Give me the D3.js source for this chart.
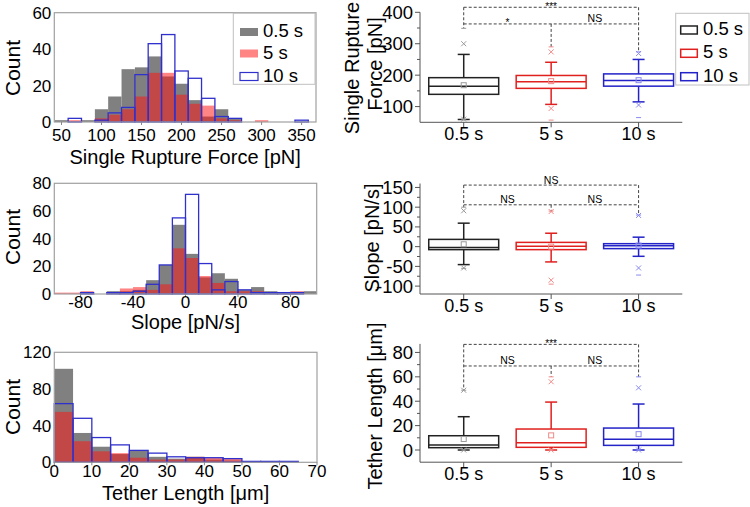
<!DOCTYPE html>
<html><head><meta charset="utf-8">
<script src="https://cdn.jsdelivr.net/npm/d3@7"></script>
<style>body{margin:0;background:#fff}svg{display:block;font-family:"Liberation Sans",Arial,sans-serif}</style>
</head><body><svg id="c" width="750" height="507"></svg>
<script>
// ---------------- data ----------------
const seriesNames = ["0.5 s", "5 s", "10 s"];

// Histogram 1: single rupture force (bin left edges, pN)
const forceBinLeft = [41.7, 58.3, 75, 91.7, 108.3, 125, 141.7, 158.3, 175, 191.7, 208.3, 225, 241.7, 258.3, 275, 291.7, 308.3, 325, 341.7];
const forceBinWidth = 16.67;
const forceGray = [1, 0, 1, 7, 14, 29, 30, 36, 25, 21, 12, 3, 7, 2, 0, 0, 0, 0, 0];
const forceRed  = [0, 1, 0, 2, 4, 7, 14, 27, 27, 15, 10, 9, 2, 1, 0, 1, 0, 0, 0];
const forceBlue = [0, 2, 0, 1, 5, 8, 26, 43, 48, 28, 24, 13, 3, 2, 0, 0, 0, 0, 1];
const forceXTicks = [50, 100, 150, 200, 250, 300, 350];
const forceYTicks = [0, 20, 40, 60];

// Histogram 2: slope (pN/s)
const slopeBinLeft = [-100, -90, -80, -70, -60, -50, -40, -30, -20, -10, 0, 10, 20, 30, 40, 50, 60, 70, 80, 90];
const slopeBinWidth = 10;
const slopeGray = [0, 0, 0, 0, 2, 2, 3, 10, 21, 50, 29, 12, 15, 11, 3, 5, 2, 1, 1, 2];
const slopeRed  = [1, 1, 2, 0, 1, 4, 5, 3, 7, 33, 26, 13, 8, 2, 2, 2, 0, 0, 2, 0];
const slopeBlue = [0, 0, 1, 0, 1, 1, 2, 7, 21, 55, 72, 22, 3, 9, 3, 1, 1, 1, 1, 0];
const slopeXTicks = [-80, -40, 0, 40, 80];
const slopeYTicks = [0, 20, 40, 60, 80];

// Histogram 3: tether length (um)
const tetherBinLeft = [0, 5, 10, 15, 20, 25, 30, 35, 40, 45, 50, 55, 60, 65];
const tetherBinWidth = 5;
const tetherGray = [102, 32, 17, 9, 13, 6, 4, 6, 3, 2, 1, 0, 0, 0];
const tetherRed  = [55, 23, 12, 10, 5, 3, 3, 6, 5, 4, 0, 0, 0, 0];
const tetherBlue = [64, 48, 27, 19, 13, 10, 6, 5, 5, 4, 1, 1, 1, 0];
const tetherXTicks = [0, 10, 20, 30, 40, 50, 60, 70];
const tetherYTicks = [0, 40, 80, 120];

// Box plot statistics, order: 0.5 s, 5 s, 10 s
// [q1, median, q3, mean, whiskerLow, whiskerHigh, p1, p99, min, max]
const forceBox = [
  [139, 165, 192, 168, 59, 266, 60, 300, 58, 349],
  [158, 179, 199, 181, 107, 241, 94, 274, 57, 290],
  [165, 183, 204, 184, 115, 250, 105, 269, 65, 274]
];
const slopeBox = [
  [-7.6, -2, 18.4, 6, -45.5, 59.5, -54, 91, -55, 100],
  [-7.6, 0.8, 10.8, 0, -38.7, 34, -85, 89, -95, 90],
  [-5, 2.5, 7.5, 2.8, -24.5, 24, -54, 79, -72, 80]
];
const tetherBox = [
  [1.9, 4.1, 11.7, 9, 0, 27.3, 0, 49, 0, 49],
  [2.2, 6, 17.2, 12, 0, 39.3, 0, 56, 0, 60],
  [3.8, 8.8, 18, 13, 0, 37.7, 0, 51, 0, 60]
];
const forceBoxTicks = [100, 200, 300, 400];
const slopeBoxTicks = [-100, -50, 0, 50, 100, 150];
const tetherBoxTicks = [0, 20, 40, 60, 80];

// significance brackets: [top level value, second level value], labels [top, left, right]
const forceSig = [416, 363]; const forceSigLabels = ["***", "*", "NS"];
const slopeSig = [156, 106]; const slopeSigLabels = ["NS", "NS", "NS"];
const tetherSig = [86.6, 68.9]; const tetherSigLabels = ["***", "NS", "NS"];

// ---------------- drawing ----------------
const svg = d3.select("#c");
const boxColors = ["#222222", "#e0201e", "#2323c8"];
const lightColors = ["#9a9a9a", "#f08a8a", "#8a8af0"];

function hist(c) {
  const g = svg.append("g");
  const x = d3.scaleLinear().domain(c.xDomain).range([c.left, c.right]);
  const y = d3.scaleLinear().domain(c.yDomain).range([c.bottom, c.top]);
  const layers = [
    {vals: c.gray, fill: "#808080", stroke: "none"},
    {vals: c.red, fill: "rgba(255,20,20,0.52)", stroke: "none"},
    {vals: c.blue, fill: "none", stroke: "#3030cc"}
  ];
  layers.forEach(L => {
    g.append("g").selectAll("rect").data(c.edges.map((e, i) => ({e, v: L.vals[i]})).filter(d => d.v > 0))
      .join("rect")
      .attr("x", d => x(d.e))
      .attr("width", d => x(d.e + c.width) - x(d.e))
      .attr("y", d => y(d.v))
      .attr("height", d => y(0) - y(d.v))
      .attr("fill", L.fill)
      .attr("stroke", L.stroke)
      .attr("stroke-width", L.stroke === "none" ? 0 : 1.3);
  });
  g.append("rect").attr("x", c.left).attr("y", c.top).attr("width", c.right - c.left).attr("height", c.bottom - c.top)
    .attr("fill", "none").attr("stroke", "#a0a0a0").attr("stroke-width", 1.2);
  g.append("g").selectAll("line").data(c.xTicks).join("line")
    .attr("x1", d => x(d)).attr("x2", d => x(d)).attr("y1", c.bottom).attr("y2", c.bottom + 3)
    .attr("stroke", "#888");
  g.append("g").selectAll("text").data(c.xTicks).join("text")
    .attr("x", d => x(d)).attr("y", c.tickY).attr("text-anchor", "middle")
    .attr("font-size", 17).text(d => d);
  g.append("g").selectAll("text").data(c.yTicks).join("text")
    .attr("x", c.left - 3).attr("y", d => y(d) + 6).attr("text-anchor", "end")
    .attr("font-size", 17).text(d => d);
  g.append("text").attr("x", (c.left + c.right) / 2).attr("y", c.titleY).attr("text-anchor", "middle")
    .attr("font-size", 20).text(c.xTitle);
  g.append("text").attr("transform", `translate(${c.countX},${c.countY}) rotate(-90)`).attr("text-anchor", "middle")
    .attr("font-size", 21).text("Count");
}

hist({left: 54.3, right: 316, top: 12.7, bottom: 122, xDomain: [41, 368], yDomain: [0, 60],
  edges: forceBinLeft, width: forceBinWidth, gray: forceGray, red: forceRed, blue: forceBlue,
  xTicks: forceXTicks, yTicks: forceYTicks, tickY: 141, xTitle: "Single Rupture Force [pN]", titleY: 164,
  countX: 20, countY: 68});
hist({left: 54.3, right: 316.7, top: 183.3, bottom: 294, xDomain: [-100, 100], yDomain: [0, 80],
  edges: slopeBinLeft, width: slopeBinWidth, gray: slopeGray, red: slopeRed, blue: slopeBlue,
  xTicks: slopeXTicks, yTicks: slopeYTicks, tickY: 308, xTitle: "Slope [pN/s]", titleY: 329,
  countX: 20, countY: 237});
hist({left: 54.3, right: 317, top: 352.3, bottom: 462.3, xDomain: [0, 70], yDomain: [0, 120],
  edges: tetherBinLeft, width: tetherBinWidth, gray: tetherGray, red: tetherRed, blue: tetherBlue,
  xTicks: tetherXTicks, yTicks: tetherYTicks, tickY: 477, xTitle: "Tether Length [μm]", titleY: 500,
  countX: 20, countY: 407});

// histogram legend
(function () {
  const g = svg.append("g");
  g.append("rect").attr("x", 233.3).attr("y", 13.3).attr("width", 81.7).attr("height", 71)
    .attr("fill", "#fff").attr("stroke", "#c0c0c0");
  const sw = [{f: "#808080", s: "none"}, {f: "rgba(255,20,20,0.52)", s: "none"}, {f: "#fff", s: "#3030cc"}];
  const ys = [37, 58.5, 81.5];
  seriesNames.forEach((n, i) => {
    g.append("rect").attr("x", 240).attr("y", ys[i] - 9).attr("width", 18).attr("height", 8)
      .attr("fill", sw[i].f).attr("stroke", sw[i].s).attr("stroke-width", 1.2);
    g.append("text").attr("x", 263).attr("y", ys[i]).attr("font-size", 18.5).text(n);
  });
})();

function boxplot(c) {
  const g = svg.append("g");
  const x = d3.scaleBand().domain(seriesNames).range([420, 682.3]).paddingInner(0).paddingOuter(0);
  const y = d3.scaleLinear().domain(c.yDomain).range([c.bottom, c.top]);
  const cx = n => x(n) + x.bandwidth() / 2;
  const bw = x.bandwidth() * 0.8;
  g.append("line").attr("x1", 420).attr("x2", 420).attr("y1", c.bottom).attr("y2", y(c.yDomain[1])).attr("stroke", "#555");
  g.append("line").attr("x1", 420).attr("x2", 682.3).attr("y1", c.bottom).attr("y2", c.bottom).attr("stroke", "#555");
  g.append("g").selectAll("line").data(c.ticks).join("line")
    .attr("x1", 420).attr("x2", 415).attr("y1", d => y(d)).attr("y2", d => y(d)).attr("stroke", "#555");
  g.append("g").selectAll("line").data(c.minor).join("line")
    .attr("x1", 420).attr("x2", 417).attr("y1", d => y(d)).attr("y2", d => y(d)).attr("stroke", "#555");
  g.append("g").selectAll("text").data(c.ticks).join("text")
    .attr("x", 413).attr("y", d => y(d) + 6.5).attr("text-anchor", "end").attr("font-size", 18.5).text(d => d);
  g.append("g").selectAll("line").data(seriesNames).join("line")
    .attr("x1", cx).attr("x2", cx).attr("y1", c.bottom).attr("y2", c.bottom + 5).attr("stroke", "#555");
  g.append("g").selectAll("text").data(seriesNames).join("text")
    .attr("x", cx).attr("y", c.labelY).attr("text-anchor", "middle").attr("font-size", 18).text(d => d);
  const tl = c.title.length;
  c.title.forEach((t, i) => {
    g.append("text").attr("transform", `translate(${c.titleX - (tl - 1 - i) * 23},${c.titleY[i]}) rotate(-90)`)
      .attr("text-anchor", "middle").attr("font-size", 20).text(t);
  });
  const dash = "3,2";
  const x0 = cx(seriesNames[0]), x1 = cx(seriesNames[1]), x2 = cx(seriesNames[2]);
  const yt = y(c.sig[0]), ys = y(c.sig[1]);
  const maxY = c.stats.map(s => y(s[9]));
  const bl = (a, b, d, e) => g.append("line").attr("x1", a).attr("y1", b).attr("x2", d).attr("y2", e)
    .attr("stroke", "#444").attr("stroke-dasharray", dash).attr("stroke-width", 1);
  bl(x0, yt, x2, yt); bl(x0, ys, x2, ys);
  bl(x0, yt, x0, maxY[0]); bl(x1, ys, x1, maxY[1]); bl(x2, yt, x2, maxY[2]);
  const lab = (xx, yy, t) => g.append("text").attr("x", xx)
    .attr("y", t.startsWith("*") ? yy + 2.5 : yy - 1.5)
    .attr("text-anchor", "middle").attr("font-size", t.startsWith("*") ? 10 : 10.5).text(t);
  lab(x1, yt, c.sigLabels[0]);
  lab((x0 + x1) / 2, ys, c.sigLabels[1]);
  lab((x1 + x2) / 2, ys, c.sigLabels[2]);
  seriesNames.forEach((n, i) => {
    const s = c.stats[i], col = boxColors[i], lc = lightColors[i], m = cx(n);
    const bg = g.append("g");
    bg.append("line").attr("x1", m).attr("x2", m).attr("y1", y(s[2])).attr("y2", y(s[5])).attr("stroke", col).attr("stroke-width", 1.5);
    bg.append("line").attr("x1", m).attr("x2", m).attr("y1", y(s[0])).attr("y2", y(s[4])).attr("stroke", col).attr("stroke-width", 1.5);
    [s[4], s[5]].forEach(v => bg.append("line").attr("x1", m - 6).attr("x2", m + 6).attr("y1", y(v)).attr("y2", y(v)).attr("stroke", col).attr("stroke-width", 1.5));
    bg.append("rect").attr("x", m - bw / 2).attr("width", bw).attr("y", y(s[2])).attr("height", y(s[0]) - y(s[2]))
      .attr("fill", "none").attr("stroke", col).attr("stroke-width", 1.5);
    bg.append("line").attr("x1", m - bw / 2).attr("x2", m + bw / 2).attr("y1", y(s[1])).attr("y2", y(s[1])).attr("stroke", col).attr("stroke-width", 1.5);
    bg.append("rect").attr("x", m - 2.5).attr("y", y(s[3]) - 2.5).attr("width", 5).attr("height", 5)
      .attr("fill", "none").attr("stroke", lc).attr("stroke-width", 1);
    [s[6], s[7]].forEach(v => {
      const yy = y(v);
      bg.append("path").attr("d", `M${m - 2.5},${yy - 2.5}L${m + 2.5},${yy + 2.5}M${m - 2.5},${yy + 2.5}L${m + 2.5},${yy - 2.5}`)
        .attr("stroke", lc).attr("stroke-width", 1);
    });
    [s[8], s[9]].forEach(v => bg.append("line").attr("x1", m - 2.5).attr("x2", m + 2.5).attr("y1", y(v)).attr("y2", y(v)).attr("stroke", lc).attr("stroke-width", 1));
  });
}

boxplot({top: 12.3, bottom: 122.3, yDomain: [50, 400], ticks: forceBoxTicks, minor: [150, 250, 350],
  stats: forceBox, sig: forceSig, sigLabels: forceSigLabels, labelY: 140,
  title: ["Single Rupture", "Force [pN]"], titleX: 382, titleY: [68, 64]});
boxplot({top: 183.5, bottom: 294, yDomain: [-120, 160], ticks: slopeBoxTicks, minor: [-75, -25, 25, 75, 125],
  stats: slopeBox, sig: slopeSig, sigLabels: slopeSigLabels, labelY: 312,
  title: ["Slope [pN/s]"], titleX: 379, titleY: [238]});
boxplot({top: 343.9, bottom: 462.2, yDomain: [-10, 87], ticks: tetherBoxTicks, minor: [10, 30, 50, 70],
  stats: tetherBox, sig: tetherSig, sigLabels: tetherSigLabels, labelY: 480,
  title: ["Tether Length [μm]"], titleX: 382, titleY: [406]});

// box legend
(function () {
  const g = svg.append("g");
  g.append("rect").attr("x", 675.7).attr("y", 13.3).attr("width", 73.3).attr("height", 71.7)
    .attr("fill", "#fff").attr("stroke", "#c0c0c0");
  const ys = [35, 58.3, 81.7];
  seriesNames.forEach((n, i) => {
    g.append("rect").attr("x", 680.7).attr("y", ys[i] - 9).attr("width", 16.6).attr("height", 8)
      .attr("fill", "none").attr("stroke", boxColors[i]).attr("stroke-width", 1.5);
    g.append("text").attr("x", 703).attr("y", ys[i]).attr("font-size", 18.5).text(n);
  });
})();
</script></body></html>
